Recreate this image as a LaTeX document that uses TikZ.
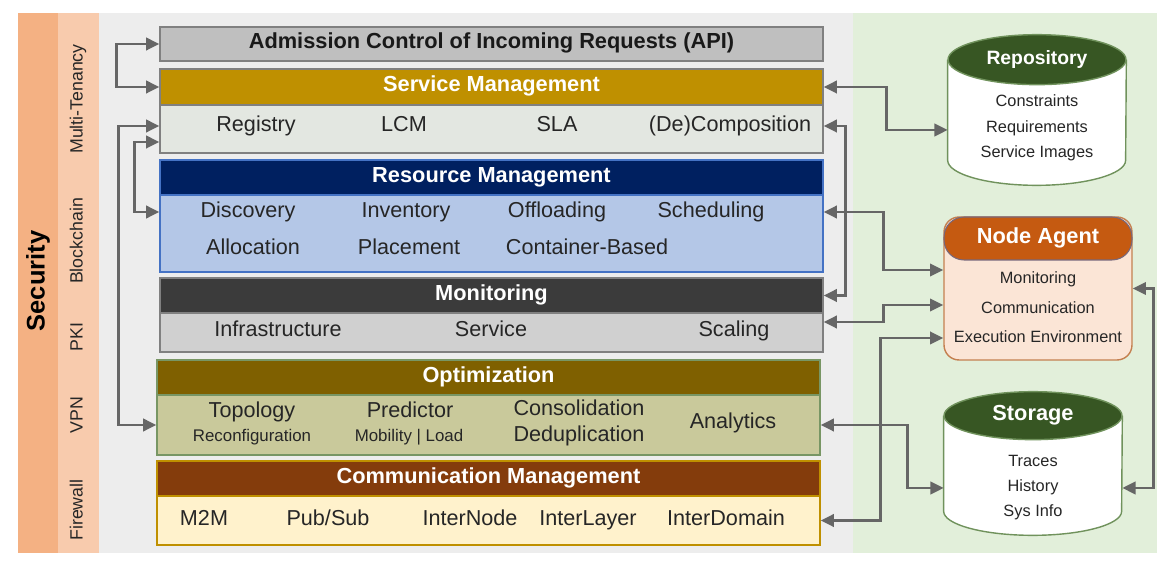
\documentclass[tikz,border=0pt]{standalone}
\usepackage{fontspec}
\setmainfont{Liberation Sans}
\usetikzlibrary{arrows.meta}
\definecolor{secouter}{RGB}{244,177,131}
\definecolor{secinner}{RGB}{248,203,173}
\definecolor{bggray}{RGB}{237,237,237}
\definecolor{bggreen}{RGB}{226,239,218}
\definecolor{admfill}{RGB}{191,191,191}
\definecolor{boxgray}{RGB}{128,128,128}
\definecolor{smhead}{RGB}{191,144,0}
\definecolor{smbody}{RGB}{227,231,225}
\definecolor{rmhead}{RGB}{0,32,96}
\definecolor{rmbody}{RGB}{180,199,231}
\definecolor{rmline}{RGB}{68,114,196}
\definecolor{monhead}{RGB}{59,59,59}
\definecolor{monbody}{RGB}{208,208,208}
\definecolor{opthead}{RGB}{127,96,0}
\definecolor{optbody}{RGB}{201,201,155}
\definecolor{optline}{RGB}{120,150,100}
\definecolor{cmhead}{RGB}{132,60,12}
\definecolor{cmbody}{RGB}{255,242,204}
\definecolor{repogreen}{RGB}{55,86,35}
\definecolor{cylline}{RGB}{112,146,92}
\definecolor{agenthead}{RGB}{197,90,17}
\definecolor{agentbody}{RGB}{251,229,214}
\definecolor{agentline}{RGB}{196,128,80}
\definecolor{linkgray}{RGB}{102,102,102}

\begin{document}
\begin{tikzpicture}[x=0.02cm, y=-0.02cm,
  layer/.style={draw=#1, line width=0.8pt, minimum width=13.26cm, inner sep=0pt},
  hdr/.style={font=\fontsize{12.4}{14}\selectfont\bfseries, text=white, text height=0.72em, text depth=0.2em},
  item/.style={font=\fontsize{12.3}{14}\selectfont, text=black!85, inner sep=0pt, text height=0.72em, text depth=0.2em},
  subitem/.style={font=\fontsize{9.6}{11}\selectfont, text=black!85, inner sep=0pt, text height=0.72em, text depth=0.2em},
  sideitem/.style={font=\fontsize{9.3}{11}\selectfont, text=black!85, inner sep=0pt, text height=0.72em, text depth=0.2em},
  sidelabel/.style={font=\fontsize{10.1}{12}\selectfont, text=black!85, rotate=90, inner sep=0pt, text height=0.72em, text depth=0.2em},
  link/.style={draw=linkgray, line width=1.5pt, >={Triangle[length=7.5pt,width=7pt]}, <->}]
  \useasboundingbox (0,0) rectangle (1174,567);
  %% Backgrounds
  \fill[secouter] (18,13) rectangle (58,553);
  \fill[secinner] (58,13) rectangle (99,553);
  \fill[bggray] (99,13) rectangle (853,553);
  \fill[bggreen] (853,13) rectangle (1157,553);
  %% Security column
  \node[font=\fontsize{14.5}{16}\selectfont\bfseries, rotate=90, inner sep=0pt, text height=0.72em, text depth=0.2em] (security) at (40,281) {Security};
  \node[sidelabel] (tenancy) at (78,99) {Multi-Tenancy};
  \node[sidelabel] (chain) at (78,241) {Blockchain};
  \node[sidelabel] (pki) at (78,337) {PKI};
  \node[sidelabel] (vpn) at (78,415) {VPN};
  \node[sidelabel] (firewall) at (78,510) {Firewall};
  %% Admission control
  \node[layer=boxgray, fill=admfill, minimum height=0.68cm, hdr, text=black!90] (adm) at (491.5,44) {Admission Control of Incoming Requests (API)};
  %% Service management
  \node[layer=boxgray, fill=smhead, minimum height=0.72cm, hdr] (smhd) at (491.5,87) {Service Management};
  \node[layer=boxgray, fill=smbody, minimum height=0.96cm] (smbd) at (491.5,129) {};
  \node[item] (registry) at (256,127) {Registry};
  \node[item] (lcm) at (404,127) {LCM};
  \node[item] (sla) at (557,127) {SLA};
  \node[item] (decomp) at (730,127) {(De)Composition};
  %% Resource management
  \node[layer=rmline, fill=rmhead, minimum height=0.70cm, hdr] (rmhd) at (491.5,177.5) {Resource Management};
  \node[layer=rmline, fill=rmbody, minimum height=1.54cm] (rmbd) at (491.5,233.5) {};
  \node[item] (discovery) at (248,213) {Discovery};
  \node[item] (inventory) at (406,213) {Inventory};
  \node[item] (offloading) at (557,213) {Offloading};
  \node[item] (scheduling) at (711,213) {Scheduling};
  \node[item] (allocation) at (253,250) {Allocation};
  \node[item] (placement) at (409,250) {Placement};
  \node[item] (container) at (587,250) {Container-Based};
  %% Monitoring
  \node[layer=boxgray, fill=monhead, minimum height=0.70cm, hdr] (monhd) at (491.5,295.5) {Monitoring};
  \node[layer=boxgray, fill=monbody, minimum height=0.78cm] (monbd) at (491.5,332.5) {};
  \node[item] (infra) at (278,332) {Infrastructure};
  \node[item] (service) at (491,332) {Service};
  \node[item] (scaling) at (734,332) {Scaling};
  %% Optimization
  \node[layer=optline, fill=opthead, minimum height=0.70cm, hdr] (opthd) at (488.5,377.5) {Optimization};
  \node[layer=optline, fill=optbody, minimum height=1.2cm] (optbd) at (488.5,425) {};
  \node[item] (topology) at (252,413) {Topology};
  \node[subitem] (reconf) at (252,437) {Reconfiguration};
  \node[item] (predictor) at (410,413) {Predictor};
  \node[subitem] (mobility) at (409,437) {Mobility | Load};
  \node[item] (consol) at (579,411) {Consolidation};
  \node[item] (dedup) at (579,437) {Deduplication};
  \node[item] (analytics) at (733,424) {Analytics};
  %% Communication management
  \node[layer=smhead, fill=cmhead, minimum height=0.70cm, hdr] (cmhd) at (488.5,478.5) {Communication Management};
  \node[layer=smhead, fill=cmbody, minimum height=0.98cm] (cmbd) at (488.5,520.5) {};
  \node[item] (mtwom) at (204,521) {M2M};
  \node[item] (pubsub) at (328,521) {Pub/Sub};
  \node[item] (internode) at (470,521) {InterNode};
  \node[item] (interlayer) at (588,521) {InterLayer};
  \node[item] (interdomain) at (726,521) {InterDomain};
  %% Repository
  \node[minimum width=3.56cm, minimum height=2cm, inner sep=0pt] (repo) at (1037,110) {};
  \draw[cylline, line width=0.8pt, fill=white] (repo.north west) -- (repo.south west)
    arc[start angle=180, end angle=360, x radius=1.78cm, y radius=0.5cm] -- (repo.north east);
  \draw[cylline, line width=0.8pt, fill=repogreen] (repo.north) ellipse[x radius=1.78cm, y radius=0.5cm];
  \node[hdr, font=\fontsize{11}{13}\selectfont\bfseries] (repotitle) at (1037,60) {Repository};
  \node[sideitem] (constraints) at (1037,102) {Constraints};
  \node[sideitem] (requirements) at (1037,128) {Requirements};
  \node[sideitem] (images) at (1037,153) {Service Images};
  %% Node agent
  \node[draw=agentline, line width=0.8pt, fill=agentbody, rounded corners=0.3cm, minimum width=3.76cm, minimum height=2.86cm] (agent) at (1038,288.5) {};
  \node[draw=rmline!60!agenthead, line width=0.6pt, fill=agenthead, rounded corners=0.4cm, minimum width=3.76cm, minimum height=0.86cm, hdr] (agenthd) at (1038,238.5) {Node Agent};
  \node[sideitem] (agmon) at (1038,279) {Monitoring};
  \node[sideitem] (agcomm) at (1038,309) {Communication};
  \node[sideitem] (agexec) at (1038,338) {Execution Environment};
  %% Storage
  \node[minimum width=3.56cm, minimum height=1.9cm, inner sep=0pt] (storage) at (1033,463.5) {};
  \draw[cylline, line width=0.8pt, fill=white] (storage.north west) -- (storage.south west)
    arc[start angle=180, end angle=360, x radius=1.78cm, y radius=0.48cm] -- (storage.north east);
  \draw[cylline, line width=0.8pt, fill=repogreen] (storage.north) ellipse[x radius=1.78cm, y radius=0.48cm];
  \node[hdr] (stortitle) at (1033,416) {Storage};
  \node[sideitem] (traces) at (1033,462) {Traces};
  \node[sideitem] (history) at (1033,487) {History};
  \node[sideitem] (sysinfo) at (1033,512) {Sys Info};
  %% Left connectors
  \draw[link] (adm.west) -- ++(-43,0) |- (smhd.west);
  \draw[link] ([yshift=0.06cm]smbd.west) -- ++(-41,0) |- (optbd.west);
  \draw[link] ([yshift=-0.26cm]smbd.west) -- ++(-25,0) |- ([yshift=0.43cm]rmbd.west);
  %% Right connectors
  \draw[link] (smhd.east) -- ++(63,0) |- ([yshift=-0.4cm]repo.west);
  \draw[link] ([yshift=0.06cm]smbd.east) -- ++(22,0) |- (monhd.east);
  \draw[link] ([yshift=0.43cm]rmbd.east) -- ++(60,0) |- ([yshift=0.37cm]agent.west);
  \draw[link] ([yshift=0.21cm]monbd.east) -- ++(60,0) |- ([yshift=-0.33cm]agent.west);
  \draw[link] (cmbd.east) -- ++(60,0) |- ([yshift=-0.99cm]agent.west);
  \draw[link] (optbd.east) -- ++(87,0) |- ([yshift=-0.49cm]storage.west);
  \draw[link] (agent.east) -- ++(21,0) |- ([yshift=-0.49cm]storage.east);
\end{tikzpicture}
\end{document}
